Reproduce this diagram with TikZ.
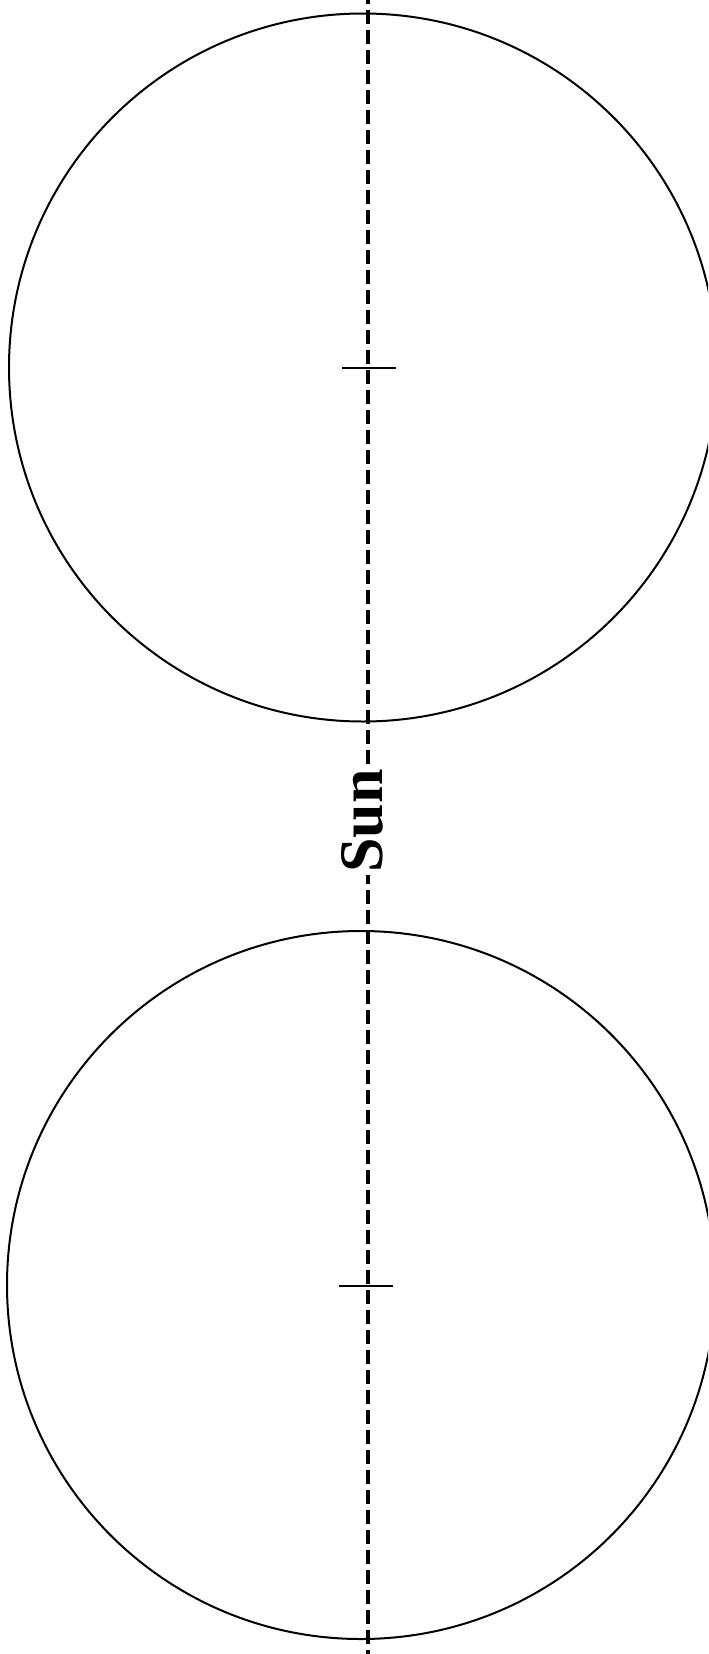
\documentclass[tikz,border=0pt]{standalone}
\usepackage{fontspec}
\setmainfont{Liberation Serif}
\usetikzlibrary{positioning}

\begin{document}
\begin{tikzpicture}[x=0.5pt, y=-0.5pt, line width=1pt]
        \useasboundingbox (0,0) rectangle (708,1654);
        \clip (0,0) rectangle (708,1654);
        % Two discs, one on each side of the Sun
        \draw (363,367.5) circle [radius=177pt];
        \draw (361,1285) circle [radius=177pt];
        % Dashed axis through both discs
        \coordinate (axtop) at (368,0);
        \coordinate (axbot) at (368,1654);
        \draw [line width=2.3pt, dash pattern=on 6.8pt off 3.2pt, dash phase=5pt] (axtop) -- (axbot);
        % Centre marks
        \draw [line width=1.2pt] (342,367.7) -- (396,367.7);
        \draw [line width=1.2pt] (339,1286) -- (393,1286);
        \node [rotate=90, fill=white, inner xsep=1pt, inner ysep=2pt,
               font=\bfseries\fontsize{31}{31}\selectfont] (sun) at (362,821) {Sun};
    \end{tikzpicture}
\end{document}
